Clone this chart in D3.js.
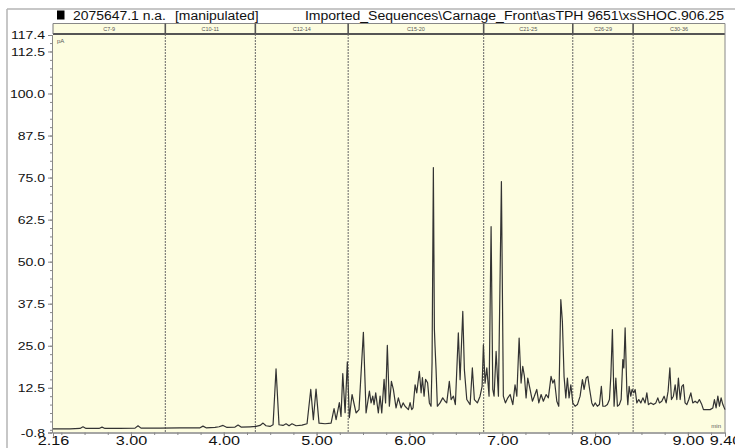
<!DOCTYPE html>
<html><head><meta charset="utf-8">
<script src="https://cdn.jsdelivr.net/npm/d3@7"></script>
<style>
body{margin:0;background:#fff;}
svg{display:block;font-family:"Liberation Sans",Arial,sans-serif;}
</style>
</head><body>
<svg id="c" width="735" height="448"></svg>
<script>
// ---- data ----
const headerLeftA = "2075647.1 n.a.";
const headerLeftB = "[manipulated]";
const headerRight = "Imported_Sequences\\Carnage_Front\\asTPH 9651\\xsSHOC.906.25";
const xDomain = [2.16, 9.40];
const yDomain = [-0.8, 117.4];
const xTickValues = [2.16, 3, 4, 5, 6, 7, 8, 9, 9.40];
const xTickLabels = ["2.16","3.00","4.00","5.00","6.00","7.00","8.00","9.00","9.40"];
const yTickValues = [-0.8, 12.5, 25, 37.5, 50, 62.5, 75, 87.5, 100, 112.5, 117.4];
const yTickLabels = ["-0.8","12.5","25.0","37.5","50.0","62.5","75.0","87.5","100.0","112.5","117.4"];
const windowBounds = [3.37, 4.34, 5.34, 6.80, 7.76, 8.41];
const windowLabels = ["C7-9","C10-11","C12-14","C15-20","C21-25","C26-29","C30-36"];
const yUnit = "pA";
const xUnit = "min";
// [retention time (min), signal (pA)]
const trace = [
[2.160,0.3],[2.343,0.3],[2.451,0.4],[2.483,0.9],[2.516,0.4],[2.656,0.4],[2.688,0.8],[2.720,0.4],
[2.882,0.4],[3.044,0.5],[3.076,1.2],[3.108,0.5],[3.313,0.5],[3.529,0.6],[3.744,0.6],[3.776,1.1],
[3.809,0.6],[3.906,0.7],[3.949,0.9],[3.992,1.3],[4.035,0.7],[4.121,0.8],[4.154,1.4],[4.186,0.8],
[4.283,0.9],[4.348,1.0],[4.391,1.3],[4.423,2.0],[4.455,1.2],[4.498,1.0],[4.531,1.5],[4.563,18.1],
[4.595,1.5],[4.638,1.3],[4.671,1.8],[4.703,1.2],[4.735,1.8],[4.779,1.2],[4.843,1.4],[4.897,1.8],
[4.937,12.0],[4.965,3.0],[4.994,12.1],[5.026,2.0],[5.091,1.8],[5.156,2.0],[5.188,6.3],[5.210,3.0],
[5.245,8.1],[5.263,4.0],[5.282,16.7],[5.307,5.1],[5.331,20.2],[5.353,3.6],[5.382,10.5],[5.425,5.0],
[5.457,6.0],[5.504,29.0],[5.533,5.0],[5.569,11.5],[5.587,8.0],[5.605,10.0],[5.619,7.5],[5.637,11.0],
[5.665,5.0],[5.684,10.0],[5.702,5.0],[5.727,15.0],[5.743,8.0],[5.762,25.1],[5.784,7.0],[5.806,14.4],
[5.827,12.0],[5.856,6.5],[5.881,9.5],[5.910,6.5],[5.932,8.0],[5.953,7.0],[5.989,6.0],[6.007,8.1],
[6.025,6.0],[6.039,6.5],[6.061,13.4],[6.079,11.0],[6.107,17.4],[6.126,11.0],[6.140,15.5],[6.158,10.0],
[6.174,15.0],[6.196,14.0],[6.215,8.0],[6.233,7.0],[6.244,20.0],[6.258,78.0],[6.269,30.0],[6.276,24.8],
[6.287,17.9],[6.301,7.0],[6.330,8.0],[6.359,9.5],[6.384,8.5],[6.402,8.0],[6.430,14.4],[6.449,9.0],
[6.474,10.0],[6.495,7.5],[6.527,28.8],[6.546,14.9],[6.575,35.2],[6.592,17.9],[6.618,9.0],[6.654,7.5],
[6.678,18.4],[6.700,9.0],[6.732,8.0],[6.761,10.0],[6.783,12.9],[6.797,25.3],[6.815,13.9],[6.834,18.4],
[6.858,10.0],[6.880,60.4],[6.898,12.0],[6.912,10.0],[6.934,23.3],[6.959,10.0],[6.991,73.8],[7.012,10.0],
[7.034,8.0],[7.060,9.5],[7.085,10.5],[7.114,7.5],[7.138,13.4],[7.157,10.0],[7.182,27.3],[7.203,13.9],
[7.221,18.9],[7.239,15.9],[7.257,9.5],[7.275,15.4],[7.300,12.0],[7.325,8.5],[7.346,10.0],[7.372,12.0],
[7.394,8.0],[7.419,10.5],[7.443,8.5],[7.473,10.5],[7.497,9.5],[7.526,15.9],[7.545,13.9],[7.562,14.9],
[7.588,8.5],[7.609,7.0],[7.631,38.7],[7.648,32.2],[7.666,15.9],[7.685,9.5],[7.702,15.4],[7.720,9.5],
[7.739,13.4],[7.760,8.0],[7.785,7.0],[7.810,7.5],[7.839,10.0],[7.864,14.9],[7.882,12.0],[7.904,15.4],
[7.922,15.9],[7.939,12.5],[7.965,8.0],[7.982,7.0],[8.001,8.0],[8.025,7.0],[8.047,7.5],[8.068,12.9],
[8.084,7.0],[8.108,7.0],[8.133,7.5],[8.155,9.0],[8.170,15.9],[8.187,29.8],[8.205,7.0],[8.224,15.4],
[8.241,7.0],[8.262,7.5],[8.281,9.0],[8.299,20.9],[8.310,18.4],[8.324,30.3],[8.342,12.0],[8.353,7.5],
[8.367,12.9],[8.385,10.0],[8.399,12.0],[8.418,11.0],[8.432,12.0],[8.450,8.0],[8.471,9.0],[8.493,8.0],
[8.515,9.5],[8.539,8.0],[8.558,11.0],[8.575,7.5],[8.601,8.0],[8.629,7.5],[8.655,8.0],[8.676,9.5],
[8.693,8.0],[8.719,8.5],[8.744,10.0],[8.766,8.0],[8.787,11.5],[8.806,18.4],[8.823,9.0],[8.844,10.0],
[8.863,13.4],[8.881,9.0],[8.898,15.4],[8.917,9.0],[8.935,12.9],[8.952,13.4],[8.970,8.0],[8.989,7.5],
[9.010,9.0],[9.032,11.0],[9.053,8.0],[9.078,8.5],[9.103,8.0],[9.124,9.0],[9.150,7.5],[9.168,6.0],
[9.204,6.0],[9.240,6.0],[9.269,6.5],[9.286,9.0],[9.304,6.5],[9.323,10.0],[9.340,7.0],[9.358,9.5],
[9.377,7.5],[9.400,6.0]
];

// ---- layout ----
const L = 53, R = 725, T = 35, B = 432.5, bandTop = 23.5, bandBot = 34;
const svg = d3.select("#c");
const x = d3.scaleLinear(xDomain, [L, R]);
const y = d3.scaleLinear(yDomain, [B, T]);

function stretch(sel, sx) {
  sel.each(function(){
    const w = this.getComputedTextLength();
    d3.select(this).attr("textLength", w * sx).attr("lengthAdjust", "spacingAndGlyphs");
  });
}

// outer frame
svg.append("line").attr("x1",7).attr("x2",735).attr("y1",9).attr("y2",9).attr("stroke","#b5b5b5").attr("stroke-width",1.5);
svg.append("line").attr("x1",7).attr("x2",7).attr("y1",9).attr("y2",448).attr("stroke","#b5b5b5").attr("stroke-width",1.5);

// header
svg.append("rect").attr("x",57).attr("y",10.5).attr("width",7.5).attr("height",9).attr("fill","#000");
const h1 = svg.append("text").attr("x",73).attr("y",19.5).attr("font-size",12).attr("fill","#111").text(headerLeftA);
const h2 = svg.append("text").attr("x",175).attr("y",19.5).attr("font-size",12).attr("fill","#111").text(headerLeftB);
const h3 = svg.append("text").attr("x",724).attr("y",19.5).attr("font-size",12).attr("fill","#111").attr("text-anchor","end").text(headerRight);
stretch(h1, 1.16); stretch(h2, 1.16); stretch(h3, 1.17);

// plot background incl. band
svg.append("rect").attr("x",L).attr("y",bandTop).attr("width",R-L).attr("height",B-bandTop).attr("fill","#fdfde0");
// band outline
svg.append("line").attr("x1",L).attr("x2",R).attr("y1",bandTop).attr("y2",bandTop).attr("stroke","#888").attr("stroke-width",1);
svg.append("line").attr("x1",L).attr("x2",R).attr("y1",bandBot).attr("y2",bandBot).attr("stroke","#555").attr("stroke-width",1.8);
svg.append("line").attr("x1",L).attr("x2",L).attr("y1",bandTop).attr("y2",bandBot).attr("stroke","#777");
svg.append("line").attr("x1",R).attr("x2",R).attr("y1",bandTop).attr("y2",B).attr("stroke","#888");

// window boundaries
const wb = svg.append("g");
windowBounds.forEach(t => {
  wb.append("line").attr("x1",x(t)).attr("x2",x(t)).attr("y1",bandTop).attr("y2",bandBot).attr("stroke","#555").attr("stroke-width",1.6);
  wb.append("line").attr("x1",x(t)).attr("x2",x(t)).attr("y1",bandBot).attr("y2",B).attr("stroke","#666").attr("stroke-width",1).attr("stroke-dasharray","2,1");
});
const edges = [xDomain[0], ...windowBounds, xDomain[1]];
windowLabels.forEach((lab, i) => {
  wb.append("text").attr("x",(x(edges[i])+x(edges[i+1]))/2).attr("y",31).attr("text-anchor","middle")
    .attr("font-size",5.5).attr("fill","#555").text(lab);
});

// units
svg.append("text").attr("x",57).attr("y",43).attr("font-size",6).attr("fill","#555").text(yUnit);
svg.append("text").attr("x",721).attr("y",428).attr("font-size",6).attr("fill","#555").attr("text-anchor","end").text(xUnit);

// trace
const line = d3.line().x(d => x(d[0])).y(d => y(d[1]));
svg.append("path").datum(trace).attr("d", line).attr("fill","none").attr("stroke","#333").attr("stroke-width",1.2).attr("stroke-linejoin","round");

// y axis
const yMinor = d3.range(0, 117.4, 2.5);
const gyMinor = svg.append("g").attr("transform",`translate(${L-1},0)`)
  .call(d3.axisLeft(y).tickValues(yMinor).tickSize(2).tickFormat(""));
const gy = svg.append("g").attr("transform",`translate(${L-1},0)`)
  .call(d3.axisLeft(y).tickValues(yTickValues).tickSize(4).tickPadding(3).tickFormat((d,i)=>yTickLabels[i]));
[gy, gyMinor].forEach(g => { g.select(".domain").attr("stroke","#888"); g.selectAll(".tick line").attr("stroke","#888"); });
gy.selectAll("text").attr("font-size",11.5).attr("fill","#111").attr("font-family",'"Liberation Sans",Arial,sans-serif');
stretch(gy.selectAll("text"), 1.22);

// x axis
const xMinor = d3.range(2.25, 9.4, 0.25);
const gxMinor = svg.append("g").attr("transform",`translate(0,${B})`)
  .call(d3.axisBottom(x).tickValues(xMinor).tickSize(2.5).tickFormat(""));
const gx = svg.append("g").attr("transform",`translate(0,${B})`)
  .call(d3.axisBottom(x).tickValues(xTickValues).tickSize(4).tickPadding(0).tickFormat((d,i)=>xTickLabels[i]));
[gx, gxMinor].forEach(g => { g.select(".domain").attr("stroke","#888"); g.selectAll(".tick line").attr("stroke","#888"); });
gx.selectAll("text").attr("font-size",12).attr("fill","#111").attr("font-family",'"Liberation Sans",Arial,sans-serif');
stretch(gx.selectAll("text"), 1.35);
</script>
</body></html>
